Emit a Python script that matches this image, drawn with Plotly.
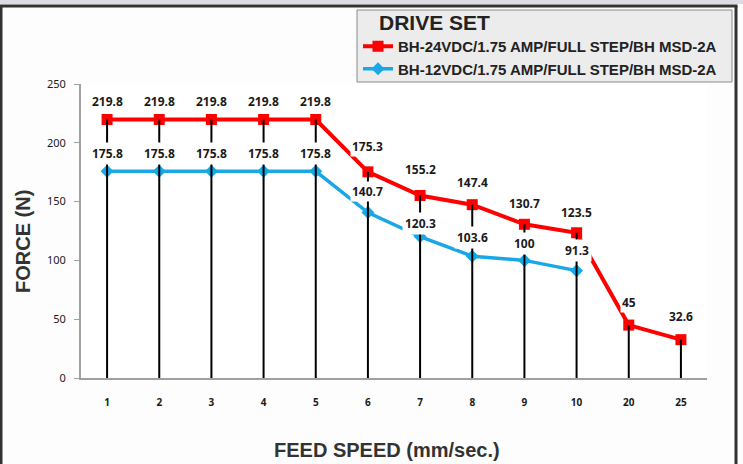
import plotly.graph_objects as go

# ---- data ----
speeds = ["1", "2", "3", "4", "5", "6", "7", "8", "9", "10", "20", "25"]
force_24v = [219.8, 219.8, 219.8, 219.8, 219.8, 175.3, 155.2, 147.4, 130.7, 123.5, 45, 32.6]
force_12v = [175.8, 175.8, 175.8, 175.8, 175.8, 140.7, 120.3, 103.6, 100, 91.3]
name_24v = "BH-24VDC/1.75 AMP/FULL STEP/BH MSD-2A"
name_12v = "BH-12VDC/1.75 AMP/FULL STEP/BH MSD-2A"
y_ticks = [0, 50, 100, 150, 200, 250]

# label offsets (px above point) and box padding - styling only
shift_24v = [18, 18, 18, 18, 18, 25, 26, 22, 21, 20, 23, 23]
shift_12v = [18, 18, 18, 18, 18, 21, 13, 19, 17, 20]
pad_12v = [2, 2, 2, 2, 2, 1, 2, 2, 2, 2]

W, H = 743, 464
L, R, T, B = 81, 707, 84, 378


def px(xp):
    return (xp - L) / (R - L)


def py(yp):
    return (B - yp) / (B - T)


fig = go.Figure()

fig.add_trace(go.Scatter(
    x=speeds[:len(force_12v)], y=force_12v, name="<b>" + name_12v + "</b>", mode="lines+markers",
    line=dict(color="#1aa7e6", width=3.5), legendgroup="b", legendrank=2,
    marker=dict(symbol="diamond", size=10, color="#1aa7e6"),
))
fig.add_trace(go.Scatter(
    x=speeds, y=force_24v, name="<b>" + name_24v + "</b>", mode="lines+markers",
    line=dict(color="#ff0000", width=4), legendgroup="a", legendrank=1,
    marker=dict(symbol="square", size=11, color="#ff0000"),
))

# drop lines from axis to the highest point of each category
dx, dy = [], []
for i, s in enumerate(speeds):
    top = force_24v[i]
    if i < len(force_12v):
        top = max(top, force_12v[i])
    dx += [s, s, None]
    dy += [0, top, None]
fig.add_trace(go.Scatter(x=dx, y=dy, mode="lines", line=dict(color="black", width=2),
                         showlegend=False, hoverinfo="skip"))

annotations = []
lab_font = dict(family="Noto Sans", size=12, color="#1a1a1a")
for i, (v, sh) in enumerate(zip(force_24v, shift_24v)):
    annotations.append(dict(x=i, y=v, xref="x", yref="y", text=f"<b>{v:g}</b>", showarrow=False,
                            yshift=sh, bgcolor="white", borderpad=1, font=lab_font))
for i, (v, sh, pd) in enumerate(zip(force_12v, shift_12v, pad_12v)):
    annotations.append(dict(x=i, y=v, xref="x", yref="y", text=f"<b>{v:g}</b>", showarrow=False,
                            yshift=sh, bgcolor="white", borderpad=pd, font=lab_font))

title_font = dict(family="Liberation Sans", size=20, color="#333333")
annotations.append(dict(x=px(23), y=py(242), xref="paper", yref="paper", text="<b>FORCE (N)</b>",
                        textangle=-90, showarrow=False, font=title_font,
                        xanchor="center", yanchor="middle"))
annotations.append(dict(x=px(387), y=py(450), xref="paper", yref="paper",
                        text="<b>FEED SPEED (mm/sec.)</b>", showarrow=False, font=title_font,
                        xanchor="center", yanchor="middle"))
annotations.append(dict(x=px(377), y=py(22), xref="paper", yref="paper", text="<b>DRIVE SET</b>",
                        xanchor="left", yanchor="middle", showarrow=False,
                        font=dict(family="Liberation Sans", size=21, color="#222222")))

shapes = [
    dict(type="rect", xref="paper", yref="paper", x0=px(0), x1=px(743), y0=py(4), y1=py(0),
         fillcolor="#dcdce4", line=dict(width=0), layer="below"),
    dict(type="line", xref="paper", yref="paper", x0=px(0), x1=px(737.5), y0=py(6), y1=py(6),
         line=dict(color="#333333", width=3), layer="below"),
    dict(type="line", xref="paper", yref="paper", x0=px(1), x1=px(1), y0=py(6), y1=py(464),
         line=dict(color="#333333", width=3), layer="below"),
    dict(type="line", xref="paper", yref="paper", x0=px(736), x1=px(736), y0=py(6), y1=py(464),
         line=dict(color="#333333", width=3), layer="below"),
    dict(type="rect", xref="paper", yref="paper", x0=px(357), x1=px(732), y0=py(82), y1=py(10),
         fillcolor="#ececec", line=dict(color="#8a8a8a", width=1), layer="below"),
]

fig.update_layout(
    width=W, height=H,
    margin=dict(l=L, r=W - R, t=T, b=H - B, autoexpand=False),
    paper_bgcolor="#fdfdfd", plot_bgcolor="white",
    showlegend=True,
    legend=dict(x=px(358), y=py(30), xanchor="left", yanchor="top", bgcolor="rgba(0,0,0,0)",
                traceorder="grouped", itemwidth=30, tracegroupgap=0,
                font=dict(family="Liberation Sans", size=15, color="#222222"),
                itemclick=False),
    annotations=annotations, shapes=shapes,
    xaxis=dict(type="category", categoryorder="array", categoryarray=speeds,
               range=[-0.5, len(speeds) - 0.5], showgrid=False, zeroline=False,
               showline=True, linecolor="#a0a0a0", linewidth=2, ticks="",
               ticklabelstandoff=14,
               tickfont=dict(family="Noto Sans", size=10, color="#1a1a1a"),
               tickprefix="<b>", ticksuffix="</b>"),
    yaxis=dict(range=[0, 250], tickvals=y_ticks, showgrid=False, zeroline=False,
               showline=True, linecolor="#a0a0a0", linewidth=2, ticks="outside",
               ticklen=5, tickcolor="#a0a0a0", ticklabelstandoff=6,
               tickfont=dict(family="Noto Sans", size=11, color="#1a1a1a"),
               tickprefix="<b>", ticksuffix="</b>"),
)

fig.write_html("out.html", config={"displayModeBar": False},
               post_script="document.body.style.margin='0';")
